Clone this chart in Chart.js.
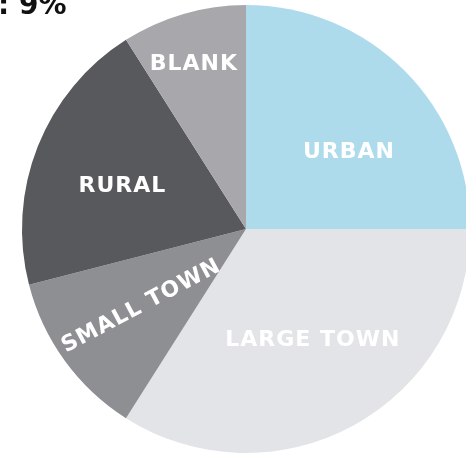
<!DOCTYPE html>
<html>
<head>
<meta charset="utf-8">
<script src="https://cdn.jsdelivr.net/npm/chart.js@4/dist/chart.umd.min.js"></script>
<style>
  html, body { margin: 0; padding: 0; background: #ffffff; overflow: hidden; width: 466px; height: 456px; }
  #wrap { position: relative; width: 466px; height: 456px; overflow: hidden; }
  #title { position: absolute; left: -2px; top: -9px; font-family: "DejaVu Sans", sans-serif; font-weight: bold; font-size: 28px; color: #111; line-height: 28px; white-space: nowrap; }
  #c { position: absolute; left: 0; top: 0; }
</style>
</head>
<body>
<div id="wrap">
  <canvas id="c" width="492" height="458"></canvas>
  <div id="title">: 9%</div>
</div>
<script>
// Data
const categories = ["URBAN", "LARGE TOWN", "SMALL TOWN", "RURAL", "BLANK"];
const shares = [25, 34, 12, 20, 9];

// Styles
const sliceColors = ["#aedbec", "#e2e4e7", "#8e8f93", "#58595c", "#a8a8ac"];
// Label placement: fraction along slice angle, fraction of radius, rotation (deg)
const labelAngleFrac = [0.59, 0.48, 0.5, 0.47, 0.46];
const labelRadiusFrac = [0.575, 0.575, 0.58, 0.585, 0.775];
const labelRotation = [0, 0, -28, 0, 0];

const sliceLabels = {
  id: 'sliceLabels',
  afterDatasetsDraw(chart) {
    const ctx = chart.ctx;
    const meta = chart.getDatasetMeta(0);
    meta.data.forEach((arc, i) => {
      const p = arc.getProps(['x', 'y', 'startAngle', 'endAngle', 'outerRadius'], true);
      const a = p.startAngle + (p.endAngle - p.startAngle) * labelAngleFrac[i];
      const r = p.outerRadius * labelRadiusFrac[i];
      const x = p.x + Math.cos(a) * r;
      const y = p.y + Math.sin(a) * r;
      ctx.save();
      ctx.translate(x, y);
      ctx.rotate(labelRotation[i] * Math.PI / 180);
      ctx.font = 'bold 22px "DejaVu Sans", sans-serif';
      if ('letterSpacing' in ctx) ctx.letterSpacing = '1px';
      ctx.fillStyle = '#ffffff';
      ctx.textAlign = 'center';
      ctx.textBaseline = 'middle';
      ctx.fillText(categories[i], 0, 1);
      ctx.restore();
    });
  }
};

new Chart(document.getElementById('c'), {
  type: 'pie',
  data: {
    labels: categories,
    datasets: [{
      data: shares,
      backgroundColor: sliceColors,
      borderWidth: 0
    }]
  },
  options: {
    responsive: false,
    animation: false,
    layout: { padding: { top: 5, bottom: 5, left: 5, right: 5 } },
    plugins: {
      legend: { display: false },
      tooltip: { enabled: false },
      title: { display: false }
    }
  },
  plugins: [sliceLabels]
});
</script>
</body>
</html>
